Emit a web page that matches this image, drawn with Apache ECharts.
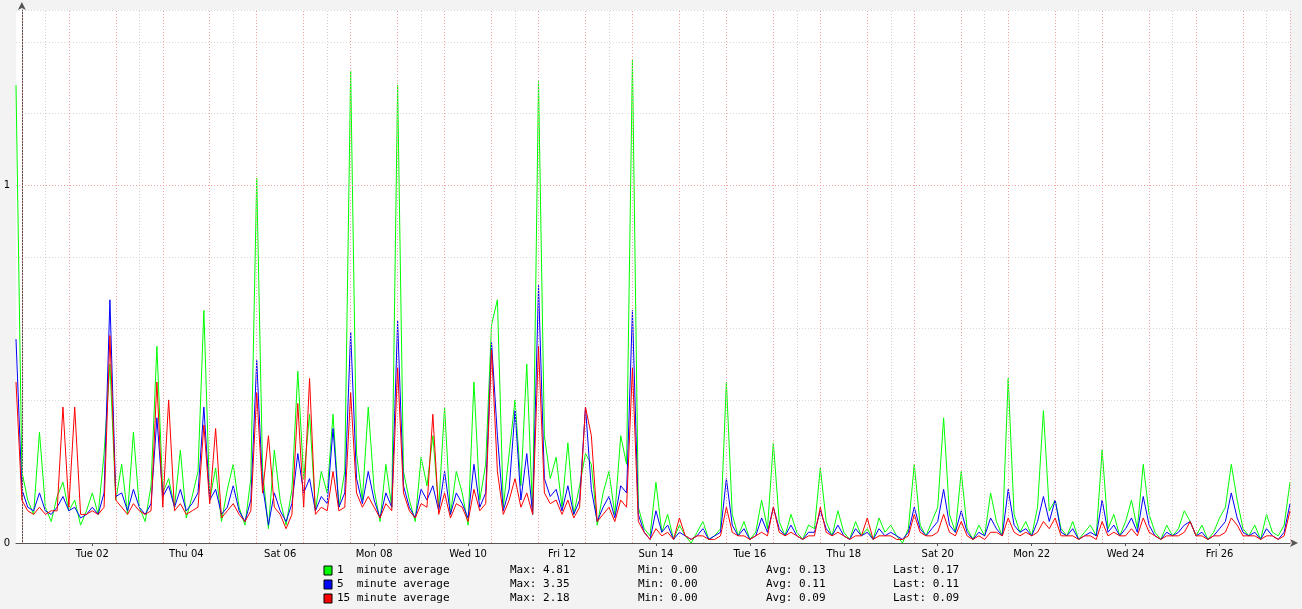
<!DOCTYPE html>
<html><head><meta charset="utf-8">
<script src="https://cdn.jsdelivr.net/npm/echarts@6/dist/echarts.min.js"></script>
<style>html,body{margin:0;padding:0;background:#f3f3f3}#c{width:1302px;height:609px}</style>
</head><body><div id="c"></div>
<script>
// sample times: hours from Mon 01 00:00, every 3 hours
const startHour = -3, stepHours = 3;
const tickHours = [36,84,132,180,228,276,324,372,420,468,516,564,612];
const tickLabels = ['Tue 02','Thu 04','Sat 06','Mon 08','Wed 10','Fri 12','Sun 14','Tue 16','Thu 18','Sat 20','Mon 22','Wed 24','Fri 26'];
const dayLines = [0,24,48,72,96,120,144,168,192,216,240,264,288,312,336,360,384,408,432,456,480,504,528,552,576,600,624,648];
const noonLines = [12,60,108,156,204,252,300,348,396,444,492,540,588,636];
const load1 = [
1.28,0.20,0.12,0.08,0.31,0.10,0.06,0.13,0.17,0.09,
0.12,0.05,0.09,0.14,0.08,0.25,0.50,0.12,0.22,0.08,
0.31,0.10,0.06,0.16,0.55,0.14,0.18,0.10,0.26,0.07,
0.13,0.20,0.65,0.12,0.21,0.06,0.15,0.22,0.10,0.05,
0.18,1.02,0.20,0.04,0.26,0.12,0.05,0.15,0.48,0.18,
0.36,0.09,0.20,0.14,0.36,0.10,0.20,1.32,0.25,0.12,
0.38,0.15,0.06,0.22,0.10,1.28,0.20,0.12,0.06,0.24,
0.16,0.30,0.10,0.38,0.08,0.20,0.14,0.05,0.45,0.12,
0.22,0.61,0.68,0.10,0.25,0.40,0.16,0.50,0.08,1.29,
0.30,0.18,0.24,0.10,0.28,0.08,0.16,0.25,0.22,0.05,
0.14,0.20,0.08,0.30,0.22,1.35,0.10,0.04,0.02,0.17,
0.03,0.08,0.01,0.05,0.02,0.00,0.03,0.06,0.01,0.02,
0.04,0.45,0.08,0.02,0.06,0.01,0.03,0.12,0.04,0.28,
0.06,0.02,0.08,0.03,0.01,0.05,0.04,0.21,0.06,0.02,
0.09,0.03,0.01,0.06,0.02,0.04,0.01,0.07,0.03,0.05,
0.02,0.00,0.04,0.22,0.05,0.02,0.06,0.10,0.35,0.08,
0.03,0.20,0.04,0.01,0.05,0.02,0.14,0.06,0.02,0.46,
0.08,0.03,0.06,0.02,0.10,0.37,0.09,0.12,0.04,0.02,
0.06,0.01,0.03,0.05,0.02,0.26,0.04,0.08,0.02,0.06,
0.12,0.04,0.22,0.08,0.03,0.01,0.05,0.02,0.04,0.09,
0.06,0.02,0.05,0.01,0.03,0.07,0.10,0.22,0.12,0.04,
0.02,0.05,0.01,0.08,0.03,0.02,0.05,0.17];
const load5 = [
0.57,0.15,0.10,0.09,0.14,0.09,0.08,0.10,0.13,0.09,
0.10,0.07,0.08,0.10,0.08,0.14,0.68,0.13,0.14,0.09,
0.15,0.10,0.08,0.11,0.35,0.13,0.16,0.10,0.15,0.09,
0.11,0.14,0.38,0.12,0.15,0.08,0.10,0.16,0.09,0.06,
0.12,0.51,0.16,0.05,0.14,0.09,0.06,0.11,0.25,0.14,
0.18,0.09,0.13,0.11,0.32,0.10,0.14,0.59,0.18,0.11,
0.20,0.12,0.07,0.14,0.10,0.62,0.16,0.10,0.07,0.15,
0.12,0.16,0.09,0.20,0.08,0.14,0.11,0.07,0.22,0.10,
0.14,0.56,0.30,0.09,0.15,0.37,0.12,0.25,0.08,0.72,
0.18,0.13,0.15,0.09,0.16,0.08,0.12,0.38,0.15,0.06,
0.10,0.13,0.07,0.16,0.14,0.65,0.08,0.03,0.01,0.09,
0.03,0.05,0.01,0.03,0.02,0.01,0.02,0.04,0.01,0.02,
0.03,0.18,0.05,0.02,0.04,0.01,0.02,0.07,0.03,0.10,
0.04,0.02,0.05,0.02,0.01,0.03,0.03,0.09,0.04,0.02,
0.05,0.02,0.01,0.04,0.02,0.03,0.01,0.04,0.02,0.03,
0.02,0.01,0.03,0.10,0.04,0.02,0.04,0.06,0.15,0.05,
0.03,0.09,0.03,0.01,0.03,0.02,0.07,0.04,0.02,0.15,
0.05,0.03,0.04,0.02,0.06,0.13,0.06,0.12,0.03,0.02,
0.04,0.01,0.02,0.03,0.02,0.12,0.03,0.05,0.02,0.04,
0.07,0.03,0.13,0.05,0.02,0.01,0.03,0.02,0.03,0.05,
0.06,0.02,0.03,0.01,0.02,0.04,0.06,0.14,0.07,0.03,
0.02,0.03,0.01,0.04,0.02,0.01,0.03,0.11];
const load15 = [
0.45,0.12,0.09,0.08,0.10,0.08,0.09,0.09,0.38,0.10,
0.38,0.08,0.08,0.09,0.08,0.10,0.58,0.12,0.10,0.08,
0.11,0.09,0.08,0.09,0.45,0.10,0.40,0.09,0.11,0.08,
0.09,0.10,0.33,0.11,0.32,0.07,0.09,0.11,0.08,0.06,
0.09,0.42,0.14,0.30,0.10,0.08,0.04,0.08,0.39,0.10,
0.46,0.08,0.10,0.09,0.20,0.09,0.10,0.42,0.14,0.10,
0.13,0.10,0.07,0.11,0.09,0.49,0.14,0.09,0.07,0.11,
0.10,0.36,0.08,0.14,0.07,0.11,0.10,0.06,0.15,0.09,
0.11,0.54,0.20,0.08,0.12,0.18,0.10,0.14,0.08,0.55,
0.14,0.11,0.12,0.08,0.12,0.07,0.10,0.38,0.30,0.06,
0.08,0.10,0.06,0.12,0.10,0.49,0.06,0.03,0.01,0.04,
0.02,0.03,0.01,0.07,0.02,0.01,0.02,0.02,0.01,0.01,
0.02,0.10,0.03,0.02,0.02,0.01,0.02,0.03,0.02,0.10,
0.03,0.02,0.03,0.02,0.01,0.02,0.02,0.10,0.03,0.02,
0.03,0.02,0.01,0.02,0.02,0.07,0.01,0.02,0.02,0.02,
0.01,0.01,0.02,0.08,0.03,0.02,0.02,0.03,0.08,0.03,
0.02,0.06,0.02,0.01,0.02,0.01,0.03,0.03,0.02,0.07,
0.03,0.02,0.03,0.02,0.03,0.06,0.04,0.07,0.02,0.02,
0.02,0.01,0.02,0.02,0.01,0.06,0.02,0.03,0.02,0.02,
0.04,0.02,0.07,0.03,0.02,0.01,0.02,0.02,0.02,0.03,
0.06,0.02,0.02,0.01,0.02,0.02,0.03,0.07,0.05,0.02,
0.02,0.02,0.01,0.02,0.02,0.01,0.02,0.09];
const legendNames = ['1  minute average','5  minute average','15 minute average'];
const legendMax = ['4.81','3.35','2.18'];
const legendMin = ['0.00','0.00','0.00'];
const legendAvg = ['0.13','0.11','0.09'];
const legendLast = ['0.17','0.11','0.09'];
const colors = ['#00ff00','#0000ff','#ff0000'];

const toPairs = arr => arr.map((v,i)=>[startHour+i*stepHours, v]);
const chart = echarts.init(document.getElementById('c'));
const mono = 'DejaVu Sans Mono';
const graphic = [];
legendNames.forEach((n,i)=>{
  const y = 565 + i*14;
  graphic.push({type:'rect',shape:{x:324,y:y+1,width:8,height:9},style:{fill:colors[i],stroke:'#000',lineWidth:1}});
  const t = (x,s)=>graphic.push({type:'text',x:x,y:y,style:{text:s,font:'11px '+mono,fill:'#000'}});
  t(337,n); t(510,'Max: '+legendMax[i]); t(638,'Min: '+legendMin[i]); t(766,'Avg: '+legendAvg[i]); t(893,'Last: '+legendLast[i]);
});
const series = [load1,load5,load15].map((d,i)=>({
  type:'line', data:toPairs(d), showSymbol:false, symbol:'none', animation:false,
  lineStyle:{width:1,color:colors[i]}, itemStyle:{color:colors[i]}, z:3+i
}));
series.unshift({
  type:'line', data:[], silent:true, animation:false,
  markLine:{silent:true, symbol:'none', animation:false, label:{show:false},
    data:[
      ...noonLines.map(h=>({xAxis:h,lineStyle:{color:'#cfcfcf',type:[1,2],width:1}})),
      ...dayLines.map(h=>({xAxis:h,lineStyle:{color:'#f2a0a0',type:[1,2],width:1}})),
      {yAxis:1,lineStyle:{color:'#f2a0a0',type:[1,2],width:1}}
    ]}
});
chart.setOption({
  backgroundColor:'#f3f3f3',
  animation:false,
  graphic: graphic.concat([{type:'rect',z:-10,shape:{x:16,y:10,width:1274,height:533},style:{fill:'#fff'}}]),
  grid:{left:16,right:12,top:10,bottom:66,show:false},
  xAxis:{type:'value',min:-3,max:648,
    axisLine:{lineStyle:{color:'#555'},symbol:['none','arrow'],symbolSize:[6,8],symbolOffset:[0,8]},
    splitLine:{show:false},
    axisTick:{show:true,customValues:tickHours,length:3,lineStyle:{color:'#555'}},
    axisLabel:{customValues:tickHours,formatter:v=>tickLabels[tickHours.indexOf(v)]||'',
      fontFamily:'DejaVu Sans',fontSize:10,color:'#000',margin:6}},
  yAxis:{type:'value',min:0,max:1.49,interval:0.2,
    axisLine:{show:true,lineStyle:{color:'#555'},symbol:['none','arrow'],symbolSize:[6,8],symbolOffset:[0,8]},
    axisTick:{show:false},
    splitLine:{lineStyle:{color:'#d8d8d8',type:[1,2]}},
    axisLabel:{formatter:v=>v===0?'0':(Math.abs(v-1)<1e-6?'1':''),fontFamily:'DejaVu Sans',fontSize:10,color:'#000',margin:6}},
  series:series
});
</script></body></html>
